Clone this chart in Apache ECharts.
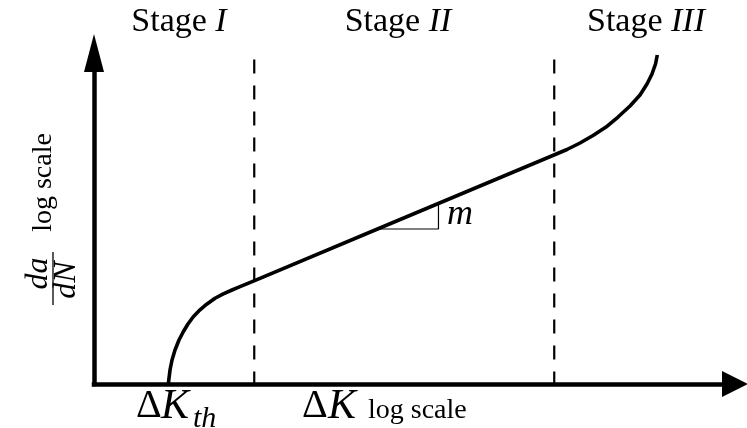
<!DOCTYPE html>
<html>
<head>
<meta charset="utf-8">
<script src="https://cdn.jsdelivr.net/npm/echarts@6/dist/echarts.min.js"></script>
<style>
html,body{margin:0;padding:0;background:#fff;}
#chart{width:747px;height:428px;}
</style>
</head>
<body>
<div id="chart"></div>
<script>
// Schematic crack-growth curve, values in arbitrary log units (0..100 on both axes)
const logDeltaK = [11.59, 11.86, 12.17, 12.64, 13.26, 13.93, 14.66, 15.49, 16.54, 17.58, 18.88, 20.17, 21.53, 22.78, 24.96, 44.23, 71.76, 73.79, 75.82, 77.85, 79.88, 81.75, 83.62, 85.18, 86.27, 87.05, 87.60, 87.88];
const logDaDN   = [0.00, 4.23, 7.25, 10.27, 13.29, 15.80, 18.13, 20.33, 22.40, 24.10, 25.90, 27.20, 28.40, 29.40, 31.18, 46.83, 69.18, 70.85, 72.81, 75.08, 77.64, 80.66, 83.99, 87.31, 90.63, 93.66, 96.68, 99.40];
const stageBoundsX = [25.0, 71.8];
const stageBoundTopY = 98;
const slopeTriX = [44.23, 53.74, 53.74];
const slopeTriY = [46.83, 46.83, 54.55];
const stageWord = 'Stage';
const stageNumerals = ['I', 'II', 'III'];
const axisMin = 0, axisMax = 100;

const serif = '"Liberation Serif", "DejaVu Serif", serif';
const curveData = logDeltaK.map((x, i) => [x, logDaDN[i]]);
const triData = slopeTriX.map((x, i) => [x, slopeTriY[i]]);

const chart = echarts.init(document.getElementById('chart'), null, {renderer: 'canvas'});

function boundSeries(x) {
  return {
    type: 'line', data: [[x, stageBoundTopY], [x, axisMin]],
    showSymbol: false, symbol: 'none', clip: false, silent: true,
    lineStyle: {color: '#000', width: 2.2, type: [14, 12]}
  };
}

function txt(x, y, text, font, align, extra) {
  return Object.assign({
    type: 'text', x: x, y: y, silent: true,
    style: {text: text, font: font, fill: '#000',
      textAlign: align, align: align, textVerticalAlign: 'middle', verticalAlign: 'middle'}
  }, extra || {});
}

function stageText(x, num) {
  return {
    type: 'text', x: x, y: 22, silent: true,
    style: {
      text: '{r|' + stageWord + '} {i|' + num + '}',
      font: '34px ' + serif, fill: '#000',
      textAlign: 'center', align: 'center', textVerticalAlign: 'middle', verticalAlign: 'middle',
      rich: {r: {font: '34px ' + serif, fill: '#000'}, i: {font: 'italic 34px ' + serif, fill: '#000'}}
    }
  };
}

const option = {
  animation: false,
  backgroundColor: '#fff',
  grid: {left: 94, right: 12, top: 53, bottom: 44, containLabel: false, outerBoundsMode: 'none'},
  xAxis: {
    type: 'value', min: axisMin, max: axisMax,
    axisLine: {show: true, onZero: false, symbol: ['none', 'triangle'], symbolSize: [26, 26],
      lineStyle: {color: '#000', width: 4.5, cap: 'square'}},
    axisTick: {show: false}, axisLabel: {show: false}, splitLine: {show: false}
  },
  yAxis: {
    type: 'value', min: axisMin, max: axisMax,
    axisLine: {show: true, onZero: false, symbol: ['none', 'triangle'], symbolSize: [20, 38],
      lineStyle: {color: '#000', width: 4.5, cap: 'square'}},
    axisTick: {show: false}, axisLabel: {show: false}, splitLine: {show: false}
  },
  series: [
    boundSeries(stageBoundsX[0]),
    boundSeries(stageBoundsX[1]),
    {
      type: 'line', data: triData, showSymbol: false, symbol: 'none', clip: false, silent: true,
      lineStyle: {color: '#000', width: 1.2}
    },
    {
      type: 'line', data: curveData, showSymbol: false, symbol: 'none', clip: false, silent: true,
      smooth: false, lineStyle: {color: '#000', width: 3.6, join: 'round', cap: 'butt'}, z: 5
    }
  ],
  graphic: [
    stageText(179, stageNumerals[0]),
    stageText(398, stageNumerals[1]),
    stageText(646, stageNumerals[2]),
    txt(447, 215, 'm', 'italic 36px ' + serif, 'left'),
    txt(136, 406.5, 'Δ', '40px ' + serif, 'left'),
    txt(161, 406.5, 'K', 'italic 42px ' + serif, 'left'),
    txt(193, 419, 'th', 'italic 30px ' + serif, 'left'),
    txt(302, 406.5, 'Δ', '40px ' + serif, 'left'),
    txt(328, 406.5, 'K', 'italic 42px ' + serif, 'left'),
    txt(368, 410.5, 'log scale', '28px ' + serif, 'left'),
    txt(43.5, 182.5, 'log scale', '28px ' + serif, 'center', {rotation: Math.PI / 2}),
    txt(39, 273.5, 'da', 'italic 32px ' + serif, 'center', {rotation: Math.PI / 2}),
    txt(67, 280, 'dN', 'italic 32px ' + serif, 'center', {rotation: Math.PI / 2}),
    {type: 'line', silent: true, shape: {x1: 53, y1: 252, x2: 53, y2: 305}, style: {stroke: '#000', lineWidth: 1.3}}
  ]
};
chart.setOption(option);
</script>
</body>
</html>
